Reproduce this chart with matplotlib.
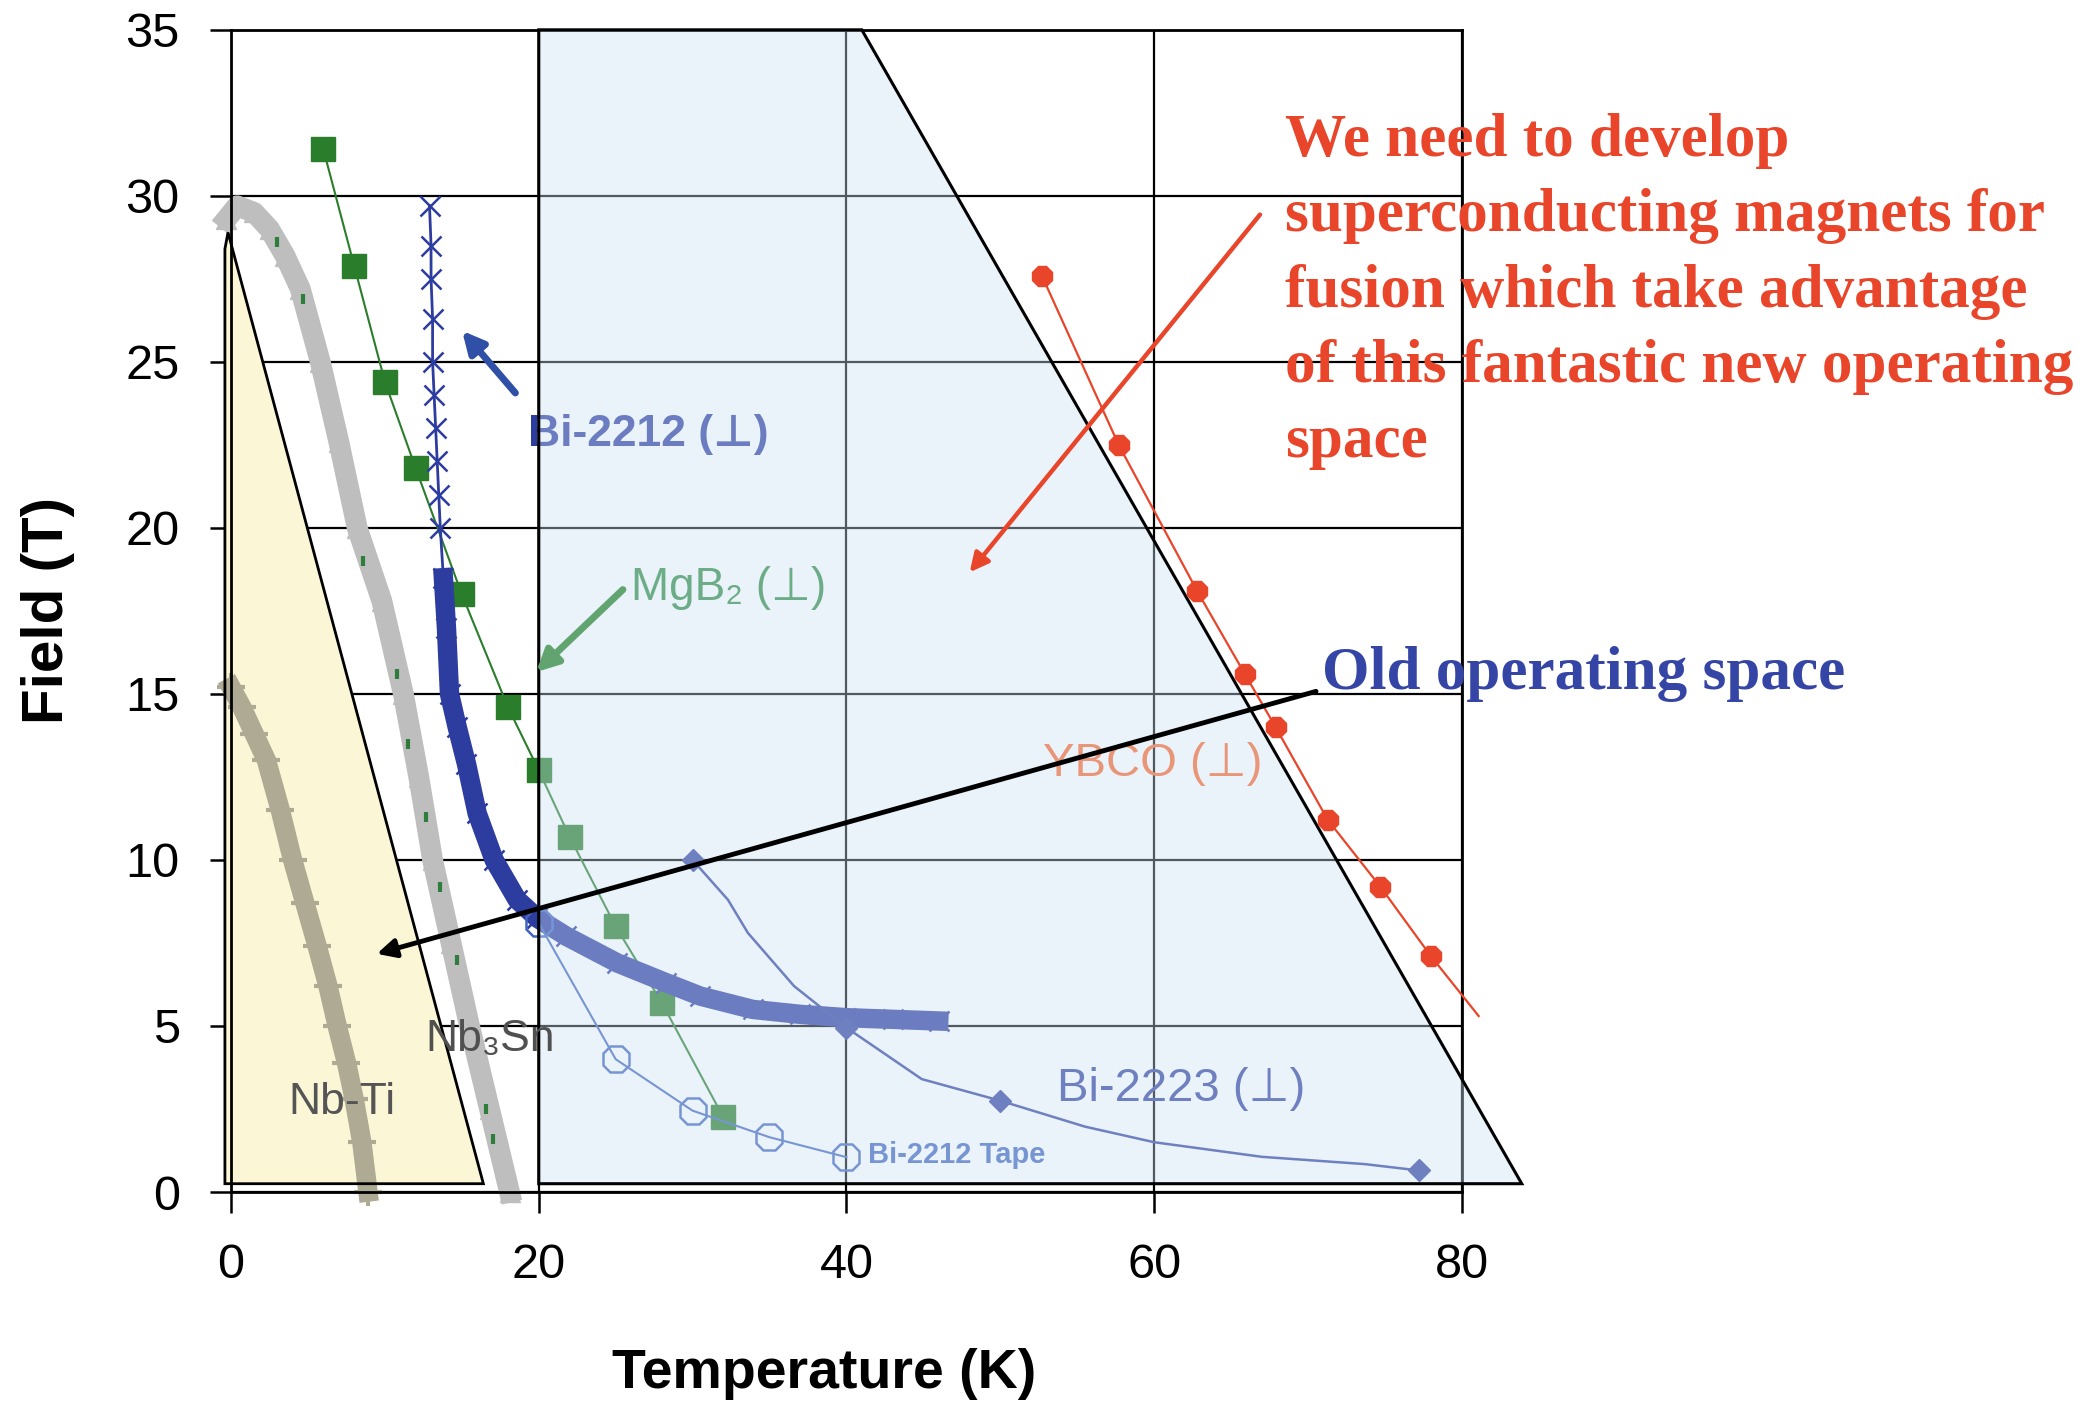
import matplotlib
matplotlib.use('Agg')
import matplotlib.pyplot as plt

# --- data (temperature in K, field in T) ---
NBTI_K = [0.0, 0.7, 1.5, 2.3, 3.2, 4.0, 4.8, 5.6, 6.3, 6.9, 7.5, 8.0, 8.5, 8.9]
NBTI_B = [15.2, 14.6, 13.8, 13.0, 11.5, 10.0, 8.7, 7.4, 6.2, 5.0, 3.9, 2.8, 1.5, 0.0]

NB3SN_K = [-0.3, 0.4, 1.5, 2.5, 3.5, 4.5, 5.8, 7.0, 8.2, 9.8, 11.2, 12.2, 13.1, 14.3, 15.5, 16.8, 18.1]
NB3SN_B = [29.3, 29.7, 29.5, 29.0, 28.2, 27.2, 25.0, 22.6, 20.0, 17.8, 15.0, 12.5, 10.0, 7.5, 5.0, 2.5, 0.0]

NB3SN2_K = [3.0, 4.7, 8.6, 10.8, 11.5, 12.7, 13.6, 14.7, 16.6, 17.0]
NB3SN2_B = [28.6, 26.9, 19.0, 15.6, 13.5, 11.3, 9.2, 7.0, 2.5, 1.6]

MGB2_K = [6, 8, 10, 12, 15, 18, 20, 22, 25, 28, 32]
MGB2_B = [31.4, 27.9, 24.4, 21.8, 18.0, 14.6, 12.7, 10.7, 8.0, 5.7, 2.25]

BI2212_K = [12.9, 13.0, 13.0, 13.1, 13.1, 13.2, 13.3, 13.4, 13.5, 13.6, 13.8, 14.0, 14.2, 14.7,
            15.3, 16.0, 17.1, 18.6, 19.9, 21.8, 25.1, 28.3, 30.5, 33.9, 37.0, 40.0, 43.0, 46.0]
BI2212_B = [29.7, 28.5, 27.5, 26.3, 25.0, 24.0, 23.0, 22.0, 21.0, 20.0, 18.5, 17.0, 15.0, 14.0,
            12.9, 11.4, 10.0, 8.8, 8.25, 7.7, 6.9, 6.3, 5.9, 5.5, 5.35, 5.25, 5.2, 5.15]

TAPE_K = [20, 25, 30, 35, 40]
TAPE_B = [8.1, 4.0, 2.45, 1.65, 1.05]

BI2223_K = [30.0, 32.3, 33.6, 36.6, 40.0, 44.9, 50.0, 55.5, 60.0, 67.0, 73.7, 77.2]
BI2223_B = [10.0, 8.8, 7.8, 6.2, 4.95, 3.4, 2.75, 1.97, 1.5, 1.06, 0.84, 0.65]
BI2223_MARKED = [0, 4, 6, 11]

YBCO_K = [52.7, 57.7, 62.8, 65.9, 67.9, 71.3, 74.7, 78.0, 81.1]
YBCO_B = [27.6, 22.5, 18.1, 15.6, 14.0, 11.2, 9.2, 7.1, 5.3]

# operating regions
OLD_SPACE_K = [-0.4, -0.4, -0.2, 16.4]
OLD_SPACE_B = [0.25, 28.4, 28.9, 0.25]
NEW_SPACE_K = [20, 20, 41, 83.9]
NEW_SPACE_B = [0.25, 35, 35, 0.25]

X_TICKS = [0, 20, 40, 60, 80]
Y_TICKS = [0, 5, 10, 15, 20, 25, 30, 35]

SANS = ['Liberation Sans', 'DejaVu Sans']
SERIF = ['Liberation Serif', 'DejaVu Serif']

BLUE = '#2D3C9F'
GREEN = '#2A7D2A'
RED = '#E8452A'


def main():
    fig = plt.figure(figsize=(20.93, 14.07), dpi=100)
    ax = fig.add_axes([0.1104, 0.1528, 0.588, 0.826])

    # regions: yellow below the curves, light blue veil over them
    ax.fill(OLD_SPACE_K, OLD_SPACE_B, facecolor='#FAF6D6', edgecolor='none', zorder=1, clip_on=False)
    ax.fill(NEW_SPACE_K, NEW_SPACE_B, facecolor='#CAE1F2', alpha=0.4, edgecolor='none', zorder=4, clip_on=False)
    ax.fill(OLD_SPACE_K, OLD_SPACE_B, facecolor='none', edgecolor='black', lw=2, zorder=5, clip_on=False)
    ax.fill(NEW_SPACE_K, NEW_SPACE_B, facecolor='none', edgecolor='black', lw=2.2, zorder=5, clip_on=False)

    # curves
    ax.plot(NBTI_K, NBTI_B, color='#AEAA93', lw=14, marker='+', ms=20, mew=3, zorder=2, clip_on=False)
    ax.plot(NB3SN_K, NB3SN_B, color='#BEBEBE', lw=15, marker='^', ms=15, zorder=2, clip_on=False)
    ax.plot(NB3SN2_K, NB3SN2_B, ls='none', marker='|', ms=7, mew=3, color='#2E7D3A', zorder=2)
    ax.plot(MGB2_K, MGB2_B, color=GREEN, lw=1.5, marker='s', ms=17, zorder=3)
    ax.plot(BI2212_K, BI2212_B, color=BLUE, lw=2, marker='x', ms=15, mew=1.8, zorder=3)
    ax.plot(BI2212_K[10:], BI2212_B[10:], color=BLUE, lw=14, zorder=3)
    ax.plot(TAPE_K, TAPE_B, color='#4164BD', lw=1.5, marker='8', ms=21, mfc='none', mew=1.8, zorder=3)
    ax.plot(BI2223_K, BI2223_B, color='#3340A0', lw=1.8, marker='D', ms=11, markevery=BI2223_MARKED, zorder=3)
    ax.plot(YBCO_K, YBCO_B, color=RED, lw=1.6, marker='8', ms=16, markevery=list(range(len(YBCO_K) - 1)),
            zorder=6, clip_on=False)

    # labels under the blue veil
    ax.text(19.3, 22.8, 'Bi-2212 (⊥)', family=SANS, fontsize=32, fontweight='bold', color=BLUE, va='center', zorder=3)
    ax.text(26.0, 18.2, 'MgB₂ (⊥)', family=SANS, fontsize=33, color='#2F8A40', va='center', zorder=3)
    ax.text(53.7, 3.1, 'Bi-2223 (⊥)', family=SANS, fontsize=34, color='#3340A0', va='center', zorder=3)
    ax.text(41.4, 1.1, 'Bi-2212 Tape', family=SANS, fontsize=21, fontweight='bold', color='#4164BD', va='center', zorder=3)
    ax.text(52.8, 12.9, 'YBCO (⊥)', family=SANS, fontsize=34, color='#FF6427', va='center', zorder=3)
    ax.text(12.6, 4.6, 'Nb₃Sn', family=SANS, fontsize=32, color='#505050', va='center', zorder=6)
    ax.text(3.7, 2.7, 'Nb-Ti', family=SANS, fontsize=32, color='#555555', va='center', zorder=6)

    # arrows
    ax.annotate('', xy=(14.9, 26.0), xytext=(18.6, 24.0),
                arrowprops=dict(arrowstyle='-|>', color='#3050A8', lw=5, mutation_scale=32), zorder=6)
    ax.annotate('', xy=(19.7, 15.6), xytext=(25.6, 18.2),
                arrowprops=dict(arrowstyle='-|>', color='#62A470', lw=5, mutation_scale=32), zorder=6)
    ax.annotate('', xy=(47.9, 18.6), xytext=(67.0, 29.5),
                arrowprops=dict(arrowstyle='-|>', color=RED, lw=3.2, mutation_scale=28), zorder=6)
    ax.annotate('', xy=(9.3, 7.15), xytext=(70.7, 15.1),
                arrowprops=dict(arrowstyle='-|>', color='black', lw=3.5, mutation_scale=28), zorder=6)

    ax.text(70.9, 15.6, 'Old operating space', family=SERIF, fontsize=44, fontweight='bold',
            color='#3545A5', va='center', zorder=6)
    ax.text(68.5, 32.5, 'We need to develop\nsuperconducting magnets for\nfusion which take advantage\n'
            'of this fantastic new operating\nspace', family=SERIF, fontsize=44, fontweight='bold',
            color=RED, va='top', linespacing=1.45, zorder=6)

    # axes
    ax.set_xlim(0, 80)
    ax.set_ylim(0, 35)
    ax.set_xticks(X_TICKS)
    ax.set_yticks(Y_TICKS)
    ax.grid(True, color='black', lw=1.6)
    ax.set_axisbelow(True)
    for spine in ax.spines.values():
        spine.set_linewidth(2)
    ax.tick_params(direction='out', length=15, width=1.8, labelsize=35, pad=22)
    for lab in ax.get_xticklabels() + ax.get_yticklabels():
        lab.set_family(SANS)
    ax.set_xlabel('Temperature (K)', family=SANS, fontsize=40, fontweight='bold', va='center')
    ax.set_ylabel('Field (T)', family=SANS, fontsize=42, fontweight='bold', va='center')
    ax.xaxis.set_label_coords(0.482, -0.157)
    ax.yaxis.set_label_coords(-0.149, 0.5)

    fig.savefig('out.png', dpi=100)


if __name__ == '__main__':
    main()
